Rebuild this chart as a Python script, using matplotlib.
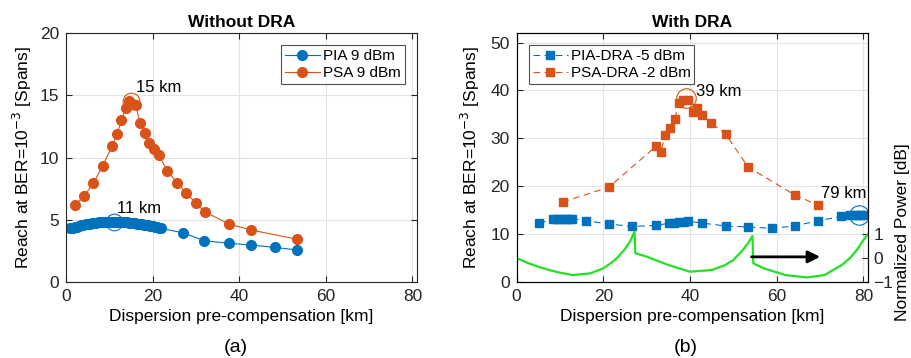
import numpy as np
import matplotlib
matplotlib.use("Agg")
import matplotlib.pyplot as plt

plt.rcParams['font.family'] = ['Liberation Sans', 'DejaVu Sans']

# %% data
pia_x = [1, 1.5, 2, 2.5, 3, 3.5, 4, 4.5, 5, 5.5, 6, 6.5, 7, 7.5, 8, 8.5, 9, 9.5, 10,
         10.5, 11, 11.5, 12, 12.5, 13, 13.5, 14, 14.5, 15, 15.5, 16, 16.5, 17, 17.5,
         18, 18.5, 19, 19.5, 20, 20.5, 21, 21.5, 22,
         26.9, 31.9, 37.6, 42.7, 48.2, 53.4]
pia_y = [4.30, 4.35, 4.40, 4.45, 4.50, 4.54, 4.58, 4.62, 4.66, 4.69, 4.72, 4.74, 4.76,
         4.78, 4.80, 4.81, 4.82, 4.83, 4.84, 4.84, 4.84, 4.84, 4.83, 4.82, 4.81, 4.80,
         4.79, 4.77, 4.75, 4.73, 4.71, 4.69, 4.67, 4.64, 4.61, 4.58, 4.55, 4.52, 4.48,
         4.44, 4.40, 4.35, 4.30,
         3.96, 3.32, 3.11, 2.97, 2.78, 2.57]
psa_x = [2.1, 4.15, 6.3, 8.45, 10.7, 11.8, 12.8, 13.75, 14.6, 15.1, 16.1, 17.1, 18.2,
         19.1, 20.3, 21.4, 23.4, 25.6, 27.7, 29.9, 32.0, 37.6, 42.7, 53.4]
psa_y = [6.18, 6.9, 7.93, 9.32, 10.95, 11.9, 13.0, 13.95, 14.5, 14.35, 14.2, 12.75, 11.95,
         11.2, 10.7, 10.2, 8.94, 7.98, 7.17, 6.37, 5.65, 4.66, 4.18, 3.43]

pia_dra_x = [5.2, 8.5, 9.2, 9.9, 10.6, 11.3, 12.0, 12.7, 16.1, 21.3, 26.7, 32.1, 35.2,
             36.4, 37.5, 38.6, 39.6, 42.8, 48.2, 53.4, 58.9, 64.1, 69.6, 74.9, 77.0,
             77.7, 78.4, 79.1, 79.8]
pia_dra_y = [12.3, 13.1, 13.2, 13.2, 13.2, 13.2, 13.2, 13.2, 12.8, 12.1, 11.6, 11.8,
             12.3, 12.4, 12.5, 12.6, 12.7, 12.3, 11.7, 11.5, 11.2, 11.7, 12.8, 13.7,
             14.0, 14.0, 14.0, 14.0, 14.0]
psa_dra_x = [10.6, 21.3, 32.1, 33.2, 34.3, 35.3, 36.5, 37.4, 38.4, 39.5, 40.7, 41.7,
             42.8, 44.9, 48.2, 53.4, 64.1, 69.6]
psa_dra_y = [16.7, 19.8, 28.3, 27.05, 30.6, 32.1, 34.0, 37.4, 38.1, 38.1, 35.6, 36.3,
             34.9, 33.2, 30.9, 24.0, 18.2, 16.0]

# normalized signal power along the link [dB]
pow_x = [0, 2.5, 5, 7.5, 10, 13, 17, 20, 22, 23.5, 25, 26.2, 27.2, 27.4, 30, 35, 40,
         45, 48, 50, 52, 53.5, 54.4, 54.6, 57, 62, 67, 71, 75, 77, 78.5, 80, 81]
pow_y = [0.0, -0.2, -0.36, -0.5, -0.61, -0.71, -0.64, -0.43, -0.18, 0.06, 0.38, 0.7,
         1.1, 0.2, 0.06, -0.29, -0.57, -0.5, -0.3, -0.08, 0.3, 0.65, 0.92, -0.22,
         -0.43, -0.71, -0.81, -0.71, -0.29, 0.02, 0.35, 0.75, 1.0]

blue = '#0072BD'
orange = '#D95319'
FS = 12.5

# %%
fig = plt.figure(figsize=(9.11, 3.58), dpi=100)
ax1 = fig.add_axes([0.0725, 0.2123, 0.385, 0.6955])
ax2 = fig.add_axes([0.567, 0.2123, 0.3856, 0.6955])


def matlab_style(ax, ypad):
    ax.grid(True, color='#e3e3e3', linewidth=0.8)
    ax.set_axisbelow(True)
    ax.tick_params(direction='in', length=4, labelsize=FS, top=True, width=0.8,
                   colors='#262626', pad=5)
    for s in ax.spines.values():
        s.set_linewidth(0.8)
        s.set_color('#262626')
    ax.set_xlabel('Dispersion pre-compensation [km]', fontsize=FS, labelpad=4)
    ax.set_ylabel('Reach at BER=10$^{-3}$ [Spans]', fontsize=FS, labelpad=ypad)


def add_legend(ax, loc):
    leg = ax.legend(loc=loc, fontsize=11, fancybox=False, edgecolor='#262626',
                    borderaxespad=0.8, handlelength=2.3, handletextpad=0.2,
                    borderpad=0.25, labelspacing=0.2)
    leg.get_frame().set_linewidth(0.8)
    return leg


# (a) without DRA
ax1.plot(pia_x, pia_y, '-o', color=blue, lw=0.8, ms=7, label='PIA 9 dBm')
ax1.plot(psa_x, psa_y, '-o', color=orange, lw=0.8, ms=7, label='PSA 9 dBm')
ax1.plot(15, 14.55, 'o', mfc='none', mec=orange, ms=12, mew=0.8)
ax1.plot(11, 4.85, 'o', mfc='none', mec=blue, ms=12, mew=0.8)
ax1.text(16.1, 15.6, '15 km', fontsize=FS - 0.5, va='center')
ax1.text(11.8, 5.9, '11 km', fontsize=FS - 0.5, va='center')
ax1.set_xlim(0, 81)
ax1.set_ylim(0, 20)
ax1.set_xticks([0, 20, 40, 60, 80])
ax1.set_yticks([0, 5, 10, 15, 20])
ax1.tick_params(right=True)
matlab_style(ax1, 4)
ax1.set_title('Without DRA', fontsize=FS, fontweight='bold', pad=4)
add_legend(ax1, 'upper right')

# (b) with DRA
ax2.plot(pia_dra_x, pia_dra_y, '--s', color=blue, lw=0.8, ms=6, dashes=(6, 4),
         label='PIA-DRA -5 dBm')
ax2.plot(psa_dra_x, psa_dra_y, '--s', color=orange, lw=0.8, ms=6, dashes=(6, 4),
         label='PSA-DRA -2 dBm')
ax2.plot(39, 38.4, 'o', mfc='none', mec=orange, ms=14, mew=0.8)
ax2.plot(79, 14.0, 'o', mfc='none', mec=blue, ms=14, mew=0.8)
ax2.text(41.4, 39.7, '39 km', fontsize=FS - 0.5, va='center')
ax2.text(70.3, 18.4, '79 km', fontsize=FS - 0.5, va='center')
ax2.set_xlim(0, 81)
ax2.set_ylim(0, 52)
ax2.set_xticks([0, 20, 40, 60, 80])
ax2.set_yticks([0, 10, 20, 30, 40, 50])
matlab_style(ax2, 6)
ax2.set_title('With DRA', fontsize=FS, fontweight='bold', pad=4)
add_legend(ax2, 'upper left')

# power profile on a second y axis
ax3 = ax2.twinx()
ax3.plot(pow_x, pow_y, color='#22e022', lw=1.6)
ax3.set_ylim(-1, -1 + 52 / 5)
ax3.set_yticks([-1, 0, 1])
ax3.tick_params(direction='in', length=4, labelsize=FS, colors='#262626', width=0.8,
                pad=4)
ax3.set_ylabel('Normalized Power [dB]', fontsize=FS)
ax3.yaxis.set_label_coords(1.078, 0.2)
ax3.annotate('', xy=(70, 0.05), xytext=(54.2, 0.05),
             arrowprops=dict(arrowstyle='-|>', color='black', lw=2,
                             mutation_scale=18, shrinkA=0, shrinkB=0))

fig.text(236 / 911, 1 - 348 / 358, '(a)', fontsize=14, ha='center', va='center')
fig.text(686 / 911, 1 - 348 / 358, '(b)', fontsize=14, ha='center', va='center')

fig.savefig('out.png', dpi=100)
